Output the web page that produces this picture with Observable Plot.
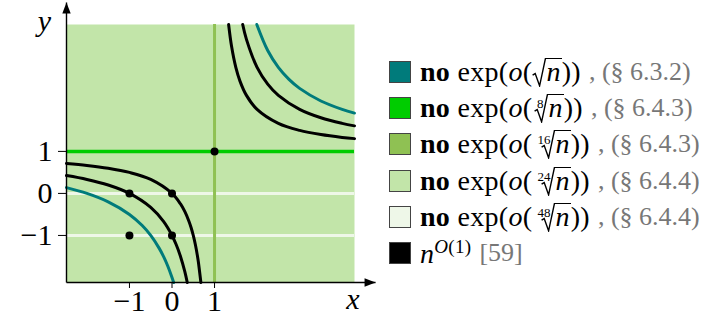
<!DOCTYPE html>
<html><head><meta charset="utf-8">
<script src="https://cdn.jsdelivr.net/npm/d3@7"></script>
<script src="https://cdn.jsdelivr.net/npm/@observablehq/plot@0.6"></script>
<style>
body{margin:0;background:#fff;}
#wrap{position:relative;width:704px;height:325px;overflow:hidden;}
#chart{position:absolute;left:0;top:0;}
#chart svg text{font-family:'Liberation Serif',serif;}
.row{position:absolute;left:389px;height:22px;display:flex;align-items:center;white-space:nowrap;font-family:'Liberation Serif',serif;font-size:28px;color:#000;}
.sw{width:20px;height:20px;border:1px solid #444;box-sizing:content-box;margin-right:9px;flex:none;}
.main{letter-spacing:0.3px;}
.ref{color:#777;font-size:26px;margin-left:8px;letter-spacing:0;}
.rsw{display:inline-block;position:relative;vertical-align:-6px;line-height:0;height:29px;width:14px;}
.rsw svg{display:block;}
.idx{position:absolute;right:5px;top:3px;font-size:13px;line-height:13px;letter-spacing:0;color:#000;}
.rn{display:inline-block;border-top:1.5px solid #000;line-height:26px;padding:0 1px 0 0;}
.m1{margin-left:2px;} .m2{margin-left:9px;}
sup{font-size:19px;}
</style></head><body>
<div id="wrap"><div id="chart"></div><div id="legend"></div></div>
<script>
// ---- data ----
const xDomain = [-2.48, 4.29];
const yDomain = [-2.12, 4.02];
const xTicks = [-1, 0, 1];
const yTicks = [-1, 0, 1];
const whiteLevels = [0, -1];
const greenLevels = [1];
const oliveLevels = [1];

// hyperbola branches (lower-left & upper-right)
const lowInner = [[-2.48,0.713],[-2,0.667],[-1.5,0.6],[-1,0.5],[-0.5,0.333],[0,0],[0.2,-0.25],[0.3,-0.429],[0.4,-0.667],[0.45,-0.818],[0.5,-1],[0.55,-1.222],[0.6,-1.5],[0.62,-1.632],[0.679,-2.12]];
const lowMid = [[-2.48,0.425],[-2,0.333],[-1.5,0.2],[-1,0],[-0.5,-0.333],[-0.2,-0.667],[0,-1],[0.1,-1.222],[0.2,-1.5],[0.3,-1.857],[0.359,-2.12]];
const lowOuter = [[-2.48,0.138],[-2,0],[-1.5,-0.2],[-1,-0.5],[-0.7,-0.765],[-0.5,-1],[-0.3,-1.308],[-0.2,-1.5],[-0.1,-1.727],[0,-2],[0.039,-2.12]];
const upInner = [[1.331,4.02],[1.4,3.5],[1.5,3],[1.6,2.667],[1.75,2.333],[2,2],[2.5,1.667],[3,1.5],[3.5,1.4],[4,1.333],[4.29,1.304]];
const upMid = [[1.662,4.02],[1.75,3.667],[2,3],[2.25,2.6],[2.5,2.333],[3,2],[3.5,1.8],[4,1.667],[4.29,1.608]];
const upOuter = [[1.993,4.02],[2.25,3.4],[2.5,3],[2.75,2.714],[3,2.5],[3.5,2.2],[4,2],[4.29,1.912]];

const dotX = [-1, 0, -1, 0, 1];
const dotY = [0, 0, -1, -1, 1];

const legendColors = ["#007b7b", "#00cc00", "#8fc153", "#c2e5a9", "#eef7e8", "#000000"];
const rootIndex = ["", "8", "16", "24", "48"];
const legendRefs = [", (§ 6.3.2)", ", (§ 6.4.3)", ", (§ 6.4.3)", ", (§ 6.4.4)", ", (§ 6.4.4)", "[59]"];
const lastLabel = '<i>n</i><sup><i>O</i>(1)</sup>';

const axisLabels = [{x: -3.0, y: 4.1, t: "y"}, {x: 4.25, y: -2.52, t: "x"}];

// ---- build ----
const curves = [];
[[lowInner,"k","a"],[lowMid,"k","b"],[lowOuter,"t","c"],[upInner,"k","d"],[upMid,"k","e"],[upOuter,"t","f"]]
  .forEach(([arr, c, id]) => arr.forEach(([x, y]) => curves.push({x, y, c, id})));
const dots = dotX.map((x, i) => ({x, y: dotY[i]}));
const x0 = xDomain[0], y0 = yDomain[0];
const axisTipX = 4.785, axisTipY = 4.543;
const axisLines = [
  {x1: x0, y1: y0, x2: x0, y2: axisTipY},
  {x1: x0, y1: y0, x2: axisTipX, y2: y0}
];
const tips = [{x: x0, y: axisTipY, r: 0}, {x: axisTipX, y: y0, r: 90}];
const arrowSym = {draw(ctx) { ctx.moveTo(0, 0); ctx.lineTo(4.2, 11); ctx.lineTo(-4.2, 11); ctx.closePath(); }};
const fmt = d => d < 0 ? "\u2212" + Math.abs(d) : String(d);

const chart = Plot.plot({
  width: 380, height: 325,
  marginLeft: 66, marginRight: 26, marginTop: 24, marginBottom: 43,
  x: {domain: xDomain},
  y: {domain: yDomain},
  style: {fontFamily: "'Liberation Serif', serif", fontSize: "30px", color: "black", background: "transparent", overflow: "visible"},
  marks: [
    Plot.frame({fill: legendColors[3], stroke: "none"}),
    Plot.ruleY(whiteLevels, {stroke: legendColors[4], strokeWidth: 3}),
    Plot.ruleX(oliveLevels, {stroke: legendColors[2], strokeWidth: 3}),
    Plot.ruleY(greenLevels, {stroke: legendColors[1], strokeWidth: 3.5}),
    Plot.line(curves, {x: "x", y: "y", z: "id", stroke: d => d.c === "t" ? legendColors[0] : "#000", strokeWidth: 3, curve: "catmull-rom"}),
    Plot.dot(dots, {x: "x", y: "y", r: 4, fill: "#000", stroke: "none"}),
    Plot.axisX({ticks: xTicks, tickSize: 6, tickPadding: 1, tickFormat: fmt, label: null, fontSize: 30}),
    Plot.axisY({ticks: yTicks, tickSize: 8, tickPadding: 6, tickFormat: fmt, label: null, fontSize: 30}),
    Plot.link(axisLines, {x1: "x1", y1: "y1", x2: "x2", y2: "y2", stroke: "#000", strokeWidth: 1.4}),
    Plot.dot(tips, {x: "x", y: "y", rotate: "r", symbol: arrowSym, fill: "#000", stroke: "none"}),
    Plot.text(axisLabels, {x: "x", y: "y", text: "t", fontStyle: "italic", fontSize: 30})
  ]
});
document.getElementById("chart").appendChild(chart);
const sel = d3.select(chart);
sel.selectAll("g[aria-label$='tick label']").style("font-size", "30px");
sel.selectAll("g[aria-label='text']").style("font-size", "30px").style("font-style", "italic");

const radSvg = '<svg width="14" height="29" viewBox="0 0 14 29"><path d="M0.6,17.2 L3.2,15.6 L7.6,27.8 L13.4,0.75 H14" fill="none" stroke="#000" stroke-width="1.4" stroke-linejoin="miter"/></svg>';
function rootLabel(idx) {
  const cls = idx.length === 0 ? "" : idx.length === 1 ? "m1" : "m2";
  const ix = idx ? `<span class="idx">${idx}</span>` : "";
  return `<b>no</b>&nbsp;exp(<i>o</i>(<span class="rsw ${cls}">${ix}${radSvg}</span><span class="rn"><i>n</i></span>))`;
}

const leg = document.getElementById("legend");
legendColors.forEach((col, i) => {
  const row = document.createElement("div");
  row.className = "row";
  row.style.top = (72 + 36.2 * i - 11) + "px";
  const label = i < rootIndex.length ? rootLabel(rootIndex[i]) : lastLabel;
  row.innerHTML = `<span class="sw" style="background:${col}"></span><span class="main">${label}</span><span class="ref">${legendRefs[i]}</span>`;
  leg.appendChild(row);
});
</script>
</body></html>
